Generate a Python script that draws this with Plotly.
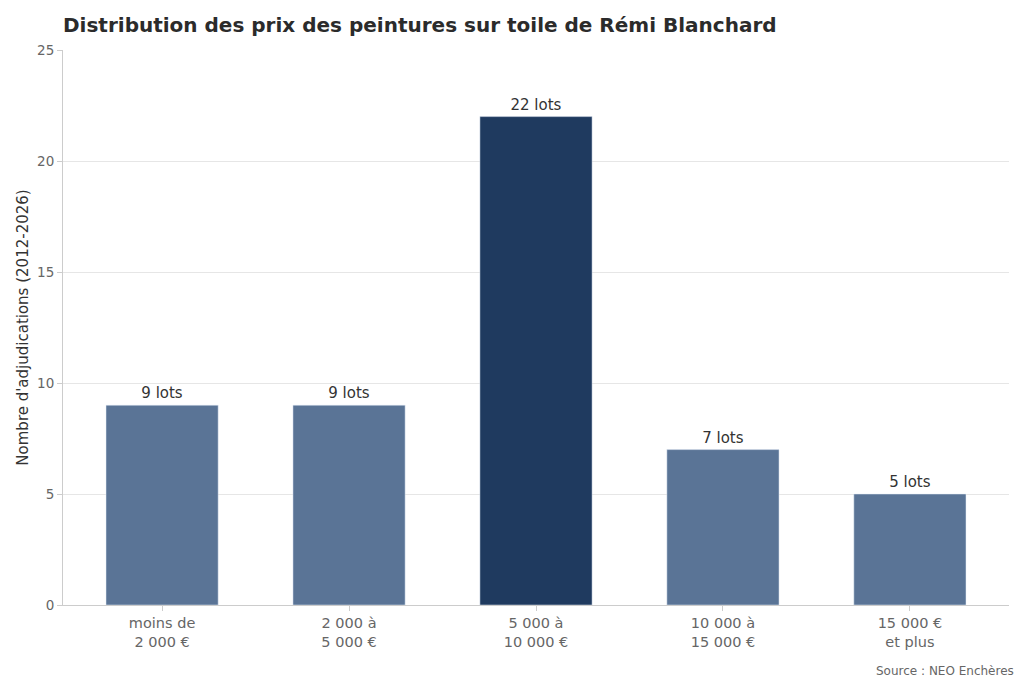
import plotly.graph_objects as go

categories = ["moins de<br>2 000 €", "2 000 à<br>5 000 €", "5 000 à<br>10 000 €", "10 000 à<br>15 000 €", "15 000 €<br>et plus"]
counts = [9, 9, 22, 7, 5]
labels = ["9 lots", "9 lots", "22 lots", "7 lots", "5 lots"]
highlight = [False, False, True, False, False]

colors = ["#1f3a5f" if h else "#5a7496" for h in highlight]

W, H = 1024, 683
L, R, T, B = 55, 23, 42, 86

fig = go.Figure(go.Bar(
    x=categories, y=counts, marker_color=colors, width=0.6,
    text=labels, textposition="outside", cliponaxis=False,
    textfont=dict(size=15, color="#333333", family="DejaVu Sans"),
))

fig.update_layout(
    width=W, height=H,
    margin=dict(l=L, r=R, t=T, b=B),
    plot_bgcolor="white", paper_bgcolor="white",
    font=dict(family="DejaVu Sans", color="#333333"),
    title=dict(text="<b>Distribution des prix des peintures sur toile de Rémi Blanchard</b>",
               x=L/W, xanchor="left", y=1-17/H, yanchor="middle",
               font=dict(size=20, color="#2b2b2b")),
    showlegend=False,
    annotations=[dict(text="Source : NEO Enchères", xref="paper", yref="paper",
                      x=(1008-L)/(W-L-R), y=-(663-(H-B))/(H-T-B), xanchor="right", yanchor="middle",
                      showarrow=False, font=dict(size=12, color="#666666"))],
)

fig.update_xaxes(showline=True, linecolor="#cccccc", ticks="outside", tickcolor="#cccccc",
                 range=[-0.53, len(categories) - 0.47],
                 ticklen=5, tickfont=dict(size=14.5, color="#666666"), showgrid=False, automargin=False)
fig.update_yaxes(range=[0, 25], dtick=5, showline=True, linecolor="#cccccc", ticks="outside",
                 tickcolor="#cccccc", ticklen=5, gridcolor="#e6e6e6", zeroline=False, automargin=False,
                 tickfont=dict(size=13.5, color="#666666"),
                 title=dict(text="Nombre d'adjudications (2012-2026)", font=dict(size=15, color="#333333"), standoff=4))

fig.write_html("out.html")
